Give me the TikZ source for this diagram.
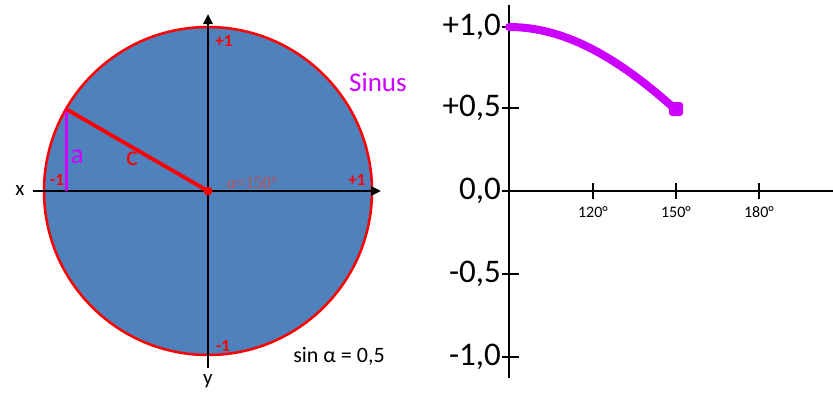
\documentclass[tikz,border=0pt]{standalone}
\usepackage{fontspec}
\setmainfont{Carlito}
\newfontfamily\alphaserif{Liberation Serif}
\usetikzlibrary{arrows.meta}
\definecolor{discblue}{HTML}{4F81BD}
\definecolor{sinmag}{HTML}{CC00FF}
\definecolor{alphared}{HTML}{C0504D}
\tikzset{
  axis/.style={line width=2.4pt, black},
  ticklbl/.style={font=\fontsize{33}{36}\selectfont, anchor=east, inner sep=0pt},
  deglbl/.style={font=\fontsize{16}{18}\selectfont, inner sep=0pt},
  unitlbl/.style={font=\fontsize{17}{19}\selectfont\bfseries, text=red, inner sep=0pt},
  tickmark/.style={line width=2pt, black}
}
\begin{document}
\begin{tikzpicture}[x=1pt,y=-1pt]
\useasboundingbox[fill=white] (0,0) rectangle (833,400);
% disc
\coordinate (O) at (208,191);
\fill[discblue] (O) circle[radius=164];
\draw[red, line width=2.5pt] (O) circle[radius=164];
% axes
\coordinate (xl) at (33,191);
\coordinate (xr) at (381,191);
\coordinate (yb) at (208,368);
\coordinate (yt) at (208,14);
\draw[axis, -{Triangle[length=10pt,width=9pt]}] (xl) -- (xr);
\draw[axis, -{Triangle[length=10pt,width=9pt]}] (yb) -- (yt);
\node[font=\fontsize{21}{24}\selectfont] (xlab) at (20,190) {x};
\node[font=\fontsize{21}{24}\selectfont] (ylab) at (208,381) {y};
% point on circle
\coordinate (P) at (66,109);
\coordinate (Pf) at (66,191);
\draw[sinmag, line width=3pt] (P) -- (Pf);
\draw[red, line width=3.8pt] (P) -- (O);
\fill[red] (O) circle[radius=4.5];
\node[text=sinmag, font=\fontsize{28}{30}\selectfont] (alab) at (77,157) {a};
\node[text=red, font=\fontsize{28}{30}\selectfont] (clab) at (132,159) {c};
\node[text=alphared, font=\alphaserif\fontsize{17}{19}\selectfont, anchor=west, inner sep=0pt] (alpha) at (227,183) {α=150°};
\node[unitlbl] (ptop) at (224,41) {+1};
\node[unitlbl] (pbot) at (223,346) {-1};
\node[unitlbl] (pleft) at (57,180) {-1};
\node[unitlbl] (pright) at (357,180) {+1};
\node[text=sinmag, font=\fontsize{27}{30}\selectfont] (sinus) at (378,82) {Sinus};
\node[font=\fontsize{22}{25}\selectfont] (sineq) at (339,356) {sin α = 0,5};
% graph axes
\coordinate (gb) at (509,378);
\coordinate (gt) at (509,5);
\coordinate (gl) at (503,191);
\coordinate (gr) at (833,191);
\draw[axis] (gb) -- (gt);
\draw[axis] (gl) -- (gr);
\foreach \yy/\lab/\nm in {27/{+1,0}/ta,108/{+0,5}/tb,191/{0,0}/tc,274/{-0,5}/td,357/{-1,0}/te}{
  \draw[tickmark] (502,\yy) -- (519,\yy);
  \node[ticklbl] (\nm) at (501,\yy) {\lab};
}
\foreach \xx/\lab/\nm in {593/120/da,676/150/db,759/180/dc}{
  \draw[tickmark] (\xx,183) -- (\xx,199);
  \node[deglbl] (\nm) at (\xx,212) {\lab°};
}
% sine curve
\draw[sinmag, line width=8pt, domain=90:150, samples=40, line cap=round]
  plot ({509+(\x-90)*83/30},{191-164*sin(\x)});
\fill[sinmag, rounded corners=3pt] (669,102) rectangle (683,116);
\end{tikzpicture}
\end{document}
